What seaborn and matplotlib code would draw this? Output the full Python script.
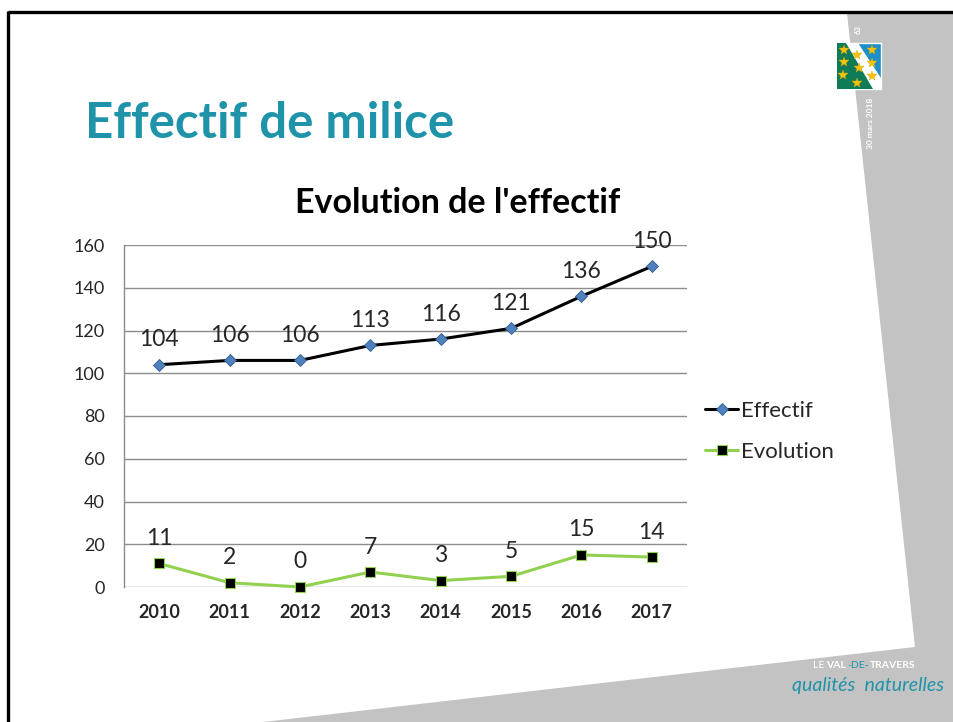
import matplotlib
matplotlib.use("Agg")
import matplotlib.pyplot as plt
import pandas as pd
import seaborn as sns
from matplotlib.patches import Polygon, Rectangle

YEARS = ["2010", "2011", "2012", "2013", "2014", "2015", "2016", "2017"]
EFFECTIF = [104, 106, 106, 113, 116, 121, 136, 150]
EVOLUTION = [11, 2, 0, 7, 3, 5, 15, 14]
Y_TICKS = [0, 20, 40, 60, 80, 100, 120, 140, 160]

SLIDE_TITLE = "Effectif de milice"
CHART_TITLE = "Evolution de l'effectif"
TEAL = "#1E93AA"
GREEN = "#92D050"
BLUE = "#4F81BD"
GREY_BAND = "#C3C3C3"

W, H = 954, 722

sns.set_style("white")
plt.rcParams["font.family"] = ["Lato", "DejaVu Sans"]

fig = plt.figure(figsize=(W / 100, H / 100), dpi=100)

# slide decoration, drawn in pixel coordinates
bg = fig.add_axes([0, 0, 1, 1], zorder=0)
bg.set_xlim(0, W)
bg.set_ylim(H, 0)
bg.axis("off")
bg.add_patch(Polygon([(847, 13), (W, 13), (W, H), (263, H), (915, 647)],
                     closed=True, facecolor=GREY_BAND, edgecolor="none"))
bg.plot([8, W], [11.5, 11.5], color="black", lw=2.4, solid_capstyle="butt")
bg.plot([8.5, 8.5], [11, H], color="black", lw=2.4, solid_capstyle="butt")

# flag logo
bg.add_patch(Rectangle((837, 43), 44, 46, facecolor="#1C8FC8", edgecolor="white", lw=1))
bg.add_patch(Polygon([(837, 43), (846, 43), (881, 89), (837, 89)], facecolor="#0F7B57", edgecolor="none"))
bg.add_patch(Polygon([(846, 43), (858, 43), (881, 78), (881, 89), (873, 89)], facecolor="white", edgecolor="none"))
for sx, sy in [(844, 50), (857, 55), (872, 50), (844, 62), (859, 68), (872, 63), (843, 75), (857, 83), (872, 76)]:
    bg.plot(sx, sy, marker="*", ms=7, color="#F2C40F", mec="#D9A800", mew=0.3)
bg.text(858, 30, "63", rotation=90, color="white", fontsize=5.5, ha="center", va="center", fontweight="bold")
bg.text(871, 123, "30 mars 2018", rotation=90, color="white", fontsize=6, ha="center", va="center", fontweight="bold")

# bottom-right brand
bg.text(813, 665, "LE ", color="white", fontsize=7.5, ha="left", va="center")
bg.text(826, 665, "VAL", color="white", fontsize=7.5, ha="left", va="center", fontweight="bold")
bg.text(847, 665, "-DE-", color=TEAL, fontsize=7.5, ha="left", va="center")
bg.text(870, 665, "TRAVERS", color="white", fontsize=7.5, ha="left", va="center", fontweight="bold")
bg.text(868, 685, "qualités  naturelles", color=TEAL, fontsize=14, ha="center", va="center",
        fontstyle="italic")

# titles
fig.text(85 / W, 1 - 124 / H, SLIDE_TITLE, color=TEAL, fontsize=35.5, fontweight="bold",
         ha="left", va="center")
fig.text(458 / W, 1 - 203 / H, CHART_TITLE, color="black", fontsize=24.5, fontweight="bold",
         ha="center", va="center")

# chart
ax = fig.add_axes([124 / W, 1 - 587 / H, 563 / W, 342 / H], zorder=1)
ax.patch.set_alpha(0)
df = pd.DataFrame({"year": YEARS, "Effectif": EFFECTIF, "Evolution": EVOLUTION})

sns.lineplot(data=df, x="year", y="Effectif", ax=ax, color="black", lw=2.2,
             marker="D", markersize=6, markerfacecolor=BLUE, markeredgecolor="#2F5C8F",
             markeredgewidth=0.6, label="Effectif", clip_on=False, zorder=3)
sns.lineplot(data=df, x="year", y="Evolution", ax=ax, color=GREEN, lw=2.2,
             marker="s", markersize=6.5, markerfacecolor="black", markeredgecolor=GREEN,
             markeredgewidth=0.8, label="Evolution", clip_on=False, zorder=3)

for i, (e, v) in enumerate(zip(EFFECTIF, EVOLUTION)):
    ax.annotate(str(e), (i, e), xytext=(0, 18), textcoords="offset points",
                ha="center", va="center", fontsize=16.5)
    ax.annotate(str(v), (i, v), xytext=(0, 18), textcoords="offset points",
                ha="center", va="center", fontsize=16.5)

ax.set_xlim(-0.5, len(YEARS) - 0.5)
ax.set_ylim(0, 160)
ax.set_yticks(Y_TICKS)
ax.grid(axis="y", color="#8C8C8C", lw=1)
ax.set_axisbelow(True)
for side in ["top", "right", "bottom"]:
    ax.spines[side].set_visible(False)
ax.spines["left"].set_color("#8C8C8C")
ax.spines["left"].set_linewidth(1)
ax.set_xlabel("")
ax.set_ylabel("")
ax.tick_params(axis="y", length=0, pad=14, labelsize=13)
ax.tick_params(axis="x", length=0, pad=12, labelsize=13)
for lab in ax.get_xticklabels():
    lab.set_fontweight("bold")

ax.legend(loc="center left", bbox_to_anchor=(705 / W, 1 - 431.5 / H), bbox_transform=fig.transFigure,
          frameon=False, borderaxespad=0, borderpad=0, fontsize=16, handlelength=1.5,
          handletextpad=0.1, labelspacing=0.95)

fig.savefig("out.png", dpi=100)
